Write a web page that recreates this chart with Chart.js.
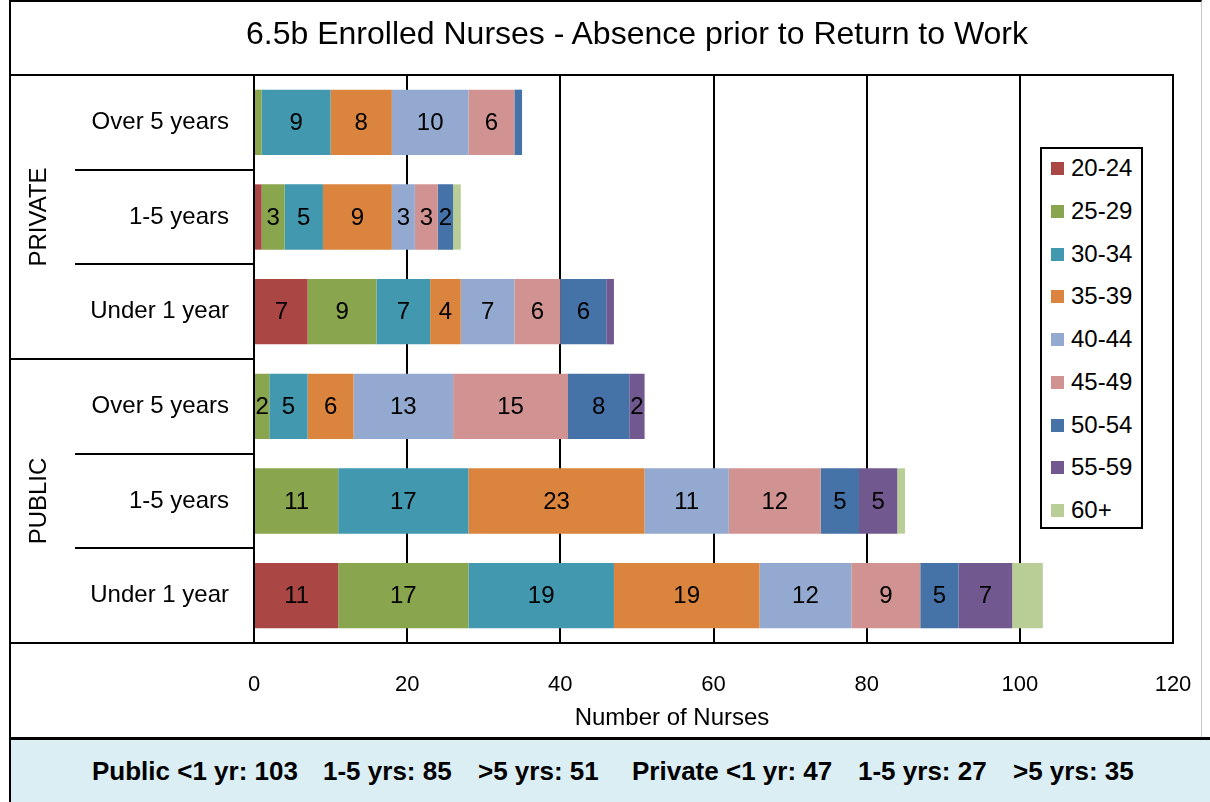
<!DOCTYPE html>
<html>
<head>
<meta charset="utf-8">
<script src="https://cdn.jsdelivr.net/npm/chart.js@4"></script>
<style>
html,body{margin:0;padding:0;background:#fff;}
body{width:1210px;height:802px;position:relative;overflow:hidden;font-family:"Liberation Sans",Arial,sans-serif;color:#000;}
#frame{position:absolute;left:9px;top:0;width:1193px;height:740px;box-sizing:border-box;border-left:2px solid #000;border-top:2px solid #000;border-right:1px solid #c8c8c8;}
#chart{position:absolute;left:0;top:0;}
#title{position:absolute;left:237px;width:800px;top:14px;text-align:center;font-size:32px;line-height:38px;white-space:nowrap;}
#legend{position:absolute;left:1040px;top:147px;width:103px;height:382px;box-sizing:border-box;border:2px solid #000;background:#fff;}
#legend .item{position:absolute;left:0;height:30px;width:100px;}
#legend .sw{position:absolute;left:9px;top:9px;width:13px;height:13px;}
#legend .tx{position:absolute;left:29px;top:0;font-size:24px;line-height:30px;white-space:nowrap;}
#summary{position:absolute;left:9px;top:737px;width:1201px;height:65px;box-sizing:border-box;background:#DBEEF4;border-top:3px solid #000;border-left:2px solid #000;font-weight:bold;font-size:26px;line-height:62px;white-space:nowrap;}
#summary span{position:absolute;top:0;}
</style>
</head>
<body>
<div id="frame"></div>
<canvas id="chart" width="1210" height="738"></canvas>
<div id="title">6.5b Enrolled Nurses - Absence prior to Return to Work</div>
<div id="legend"></div>
<div id="summary"></div>
<script>
// ---- data ----
const categories = ['Over 5 years', '1-5 years', 'Under 1 year', 'Over 5 years', '1-5 years', 'Under 1 year'];
const groups = ['PRIVATE', 'PUBLIC'];
const groupSize = 3;
const seriesNames = ['20-24', '25-29', '30-34', '35-39', '40-44', '45-49', '50-54', '55-59', '60+'];
const age20_24 = [0, 1, 7, 0, 0, 11];
const age25_29 = [1, 3, 9, 2, 11, 17];
const age30_34 = [9, 5, 7, 5, 17, 19];
const age35_39 = [8, 9, 4, 6, 23, 19];
const age40_44 = [10, 3, 7, 13, 11, 12];
const age45_49 = [6, 3, 6, 15, 12, 9];
const age50_54 = [1, 2, 6, 8, 5, 5];
const age55_59 = [0, 0, 1, 2, 5, 7];
const age60plus = [0, 1, 0, 0, 1, 4];
const seriesValues = [age20_24, age25_29, age30_34, age35_39, age40_44, age45_49, age50_54, age55_59, age60plus];
const labeledSeries = ['20-24', '25-29', '30-34', '35-39', '40-44', '45-49', '50-54', '55-59'];
const xMin = 0, xMax = 120, xStep = 20;
const xTitle = 'Number of Nurses';
const summaryParts = ['Public <1 yr: 103', '1-5 yrs: 85', '>5 yrs: 51', 'Private <1 yr: 47', '1-5 yrs: 27', '>5 yrs: 35'];

// ---- styles ----
const seriesColors = ['#AA4643', '#89A54E', '#4198AF', '#DB843D', '#93A9CF', '#D19392', '#4572A7', '#71588F', '#B9CD96'];
const FONT = '"Liberation Sans", Arial, sans-serif';

const datasets = seriesNames.map((n, i) => ({
  label: n,
  data: seriesValues[i],
  backgroundColor: seriesColors[i],
  borderWidth: 0,
  barPercentage: 0.69,
  categoryPercentage: 1.0
}));

const decor = {
  id: 'decor',
  afterDatasetsDraw(chart) {
    const ctx = chart.ctx;
    ctx.save();
    ctx.font = '24px ' + FONT;
    ctx.fillStyle = '#000';
    ctx.textAlign = 'center';
    ctx.textBaseline = 'middle';
    chart.data.datasets.forEach((ds, di) => {
      if (!labeledSeries.includes(ds.label)) return;
      const meta = chart.getDatasetMeta(di);
      meta.data.forEach((el, i) => {
        const v = ds.data[i];
        if (v < 2) return;
        const p = el.getCenterPoint();
        ctx.fillText(String(v), p.x, p.y + 1);
      });
    });
    ctx.restore();
  },
  afterDraw(chart) {
    const ctx = chart.ctx;
    const a = chart.chartArea;
    const y = chart.scales.y;
    ctx.save();
    ctx.strokeStyle = '#000';
    ctx.lineWidth = 2;
    ctx.beginPath();
    ctx.moveTo(9, a.top); ctx.lineTo(a.right, a.top); ctx.lineTo(a.right, a.bottom);
    ctx.moveTo(9, a.bottom); ctx.lineTo(a.left, a.bottom);
    for (let i = 1; i < categories.length; i++) {
      const yy = Math.round((y.getPixelForValue(i - 1) + y.getPixelForValue(i)) / 2);
      const x0 = (i % groupSize === 0) ? 9 : 75;
      ctx.moveTo(x0, yy); ctx.lineTo(a.left, yy);
    }
    ctx.stroke();
    ctx.fillStyle = '#000';
    ctx.font = '24px ' + FONT;
    ctx.textAlign = 'center';
    ctx.textBaseline = 'middle';
    groups.forEach((g, gi) => {
      const cy = (y.getPixelForValue(gi * groupSize) + y.getPixelForValue(gi * groupSize + groupSize - 1)) / 2;
      ctx.save();
      ctx.translate(39, cy);
      ctx.rotate(-Math.PI / 2);
      ctx.fillText(g, 0, 0);
      ctx.restore();
    });
    // x-axis title (centred like the original, left of the legend column)
    ctx.fillText(xTitle, 672, 718);
    ctx.restore();
  }
};

const chart = new Chart(document.getElementById('chart'), {
  type: 'bar',
  data: { labels: categories, datasets },
  options: {
    indexAxis: 'y',
    responsive: false,
    animation: false,
    layout: { padding: { left: 0, right: 37, top: 75, bottom: 0 } },
    plugins: { legend: { display: false }, tooltip: { enabled: false }, title: { display: false } },
    scales: {
      x: {
        stacked: true,
        min: xMin, max: xMax,
        ticks: { stepSize: xStep, color: '#000', font: { family: FONT, size: 22 }, padding: 29, maxRotation: 0 },
        grid: { color: '#000', lineWidth: 2, drawTicks: false },
        border: { display: true, color: '#000', width: 2 },
        title: { display: false },
        afterFit(s) { s.height = 95; s.paddingLeft = 0; s.paddingRight = 0; }
      },
      y: {
        stacked: true,
        ticks: { color: '#000', font: { family: FONT, size: 24 }, padding: 25 },
        grid: { display: false, drawTicks: false },
        border: { display: true, color: '#000', width: 2 },
        afterFit(s) { s.width = 254; s.paddingTop = 0; s.paddingBottom = 0; }
      }
    }
  },
  plugins: [decor]
});

// HTML legend from the chart's datasets
const lg = document.getElementById('legend');
chart.data.datasets.forEach((ds, i) => {
  const it = document.createElement('div');
  it.className = 'item';
  it.style.top = (19 + i * 42.75 - 15) + 'px';
  const sw = document.createElement('div');
  sw.className = 'sw';
  sw.style.background = ds.backgroundColor;
  const tx = document.createElement('div');
  tx.className = 'tx';
  tx.textContent = ds.label;
  it.appendChild(sw); it.appendChild(tx);
  lg.appendChild(it);
});

// summary line
const sm = document.getElementById('summary');
const summaryLeft = [81, 312, 467, 621, 847, 1002];
summaryParts.forEach((t, i) => {
  const sp = document.createElement('span');
  sp.textContent = t;
  sp.style.left = summaryLeft[i] + 'px';
  sm.appendChild(sp);
});
</script>
</body>
</html>
